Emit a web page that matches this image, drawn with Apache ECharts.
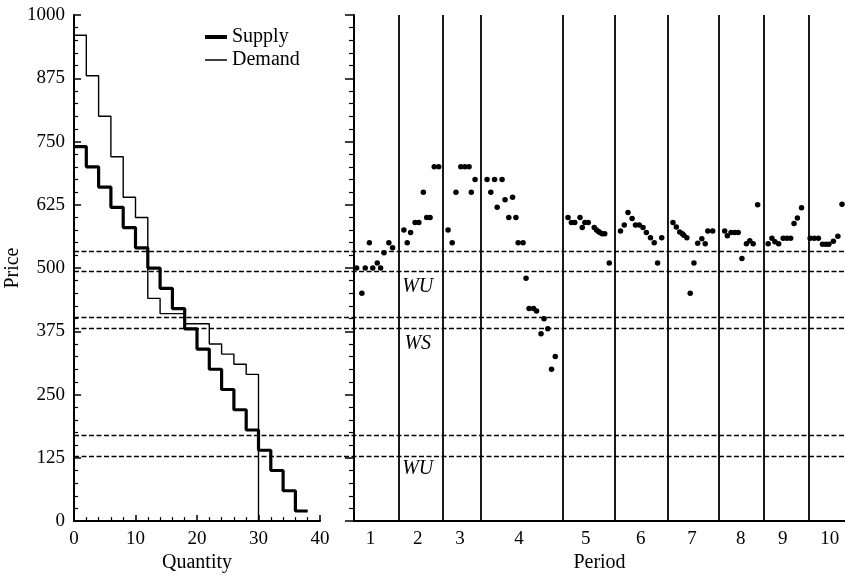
<!DOCTYPE html>
<html>
<head>
<meta charset="utf-8">
<script src="https://cdn.jsdelivr.net/npm/echarts@6/dist/echarts.min.js"></script>
<style>
html, body { margin: 0; padding: 0; background: #fff; }
#chart { width: 845px; height: 578px; }
</style>
</head>
<body>
<div id="chart"></div>
<script>
// left panel: induced supply / demand, steps of 2 units
var supplyQty = [0, 2, 4, 6, 8, 10, 12, 14, 16, 18, 20, 22, 24, 26, 28, 30, 32, 34, 36, 38];
var supplyPrice = [740, 700, 660, 620, 580, 540, 500, 460, 420, 380, 340, 300, 260, 220, 180, 140, 100, 60, 20, 20];
var demandQty = [0, 2, 4, 6, 8, 10, 12, 14, 16, 18, 20, 22, 24, 26, 28, 30];
var demandPrice = [960, 880, 800, 720, 640, 600, 440, 410, 410, 390, 390, 350, 330, 310, 290, 0];

// dashed reference prices (both panels)
var bandPrices = [540, 500, 410, 390, 180, 140];

// right panel: contract prices per period (time in trade-clock units)
var tradeTimes = [
    [0.7, 2.1, 3.0, 4.1, 5.0, 6.2, 7.1, 8.0, 9.3, 10.3],
    [13.3, 14.2, 15.1, 16.3, 17.3, 18.5, 19.4, 20.3, 21.4, 22.6],
    [25.1, 26.2, 27.2, 28.5, 29.6, 30.7, 31.3, 32.3],
    [35.5, 36.5, 37.5, 38.2, 39.5, 40.3, 41.3, 42.3, 43.2, 43.8, 45.1, 45.9, 46.7, 47.9, 48.7, 49.9, 50.7, 51.7, 52.7, 53.7],
    [57.1, 58.0, 58.9, 60.3, 60.9, 61.6, 62.5, 64.1, 64.7, 65.2, 65.6, 66.2, 66.9, 68.1],
    [71.1, 72.1, 73.1, 74.2, 75.1, 76.1, 77.1, 78.0, 79.1, 80.1, 81.0, 82.1],
    [85.1, 86.0, 86.9, 87.6, 88.0, 88.8, 89.7, 90.7, 91.7, 92.8, 93.7, 94.4, 95.7],
    [98.9, 99.6, 100.6, 101.6, 102.5, 103.5, 104.7, 105.6, 106.5, 107.7],
    [110.5, 111.5, 112.3, 113.3, 114.5, 115.5, 116.5, 117.4, 118.3, 119.4],
    [121.7, 122.8, 123.9, 125.0, 125.9, 126.7, 127.9, 129.1, 130.2]
];
var tradePrices = [
    [500, 450, 500, 550, 500, 510, 500, 530, 550, 540],
    [575, 550, 570, 590, 590, 650, 600, 600, 700, 700],
    [575, 550, 650, 700, 700, 700, 650, 675],
    [675, 650, 675, 620, 675, 635, 600, 640, 600, 550, 550, 480, 420, 420, 415, 370, 400, 380, 300, 325],
    [600, 590, 590, 600, 580, 590, 590, 580, 575, 572, 570, 568, 568, 510],
    [573, 585, 610, 598, 585, 585, 580, 570, 560, 550, 510, 560],
    [590, 581, 571, 568, 565, 560, 450, 510, 549, 558, 548, 573, 573],
    [573, 564, 570, 570, 570, 519, 548, 554, 548, 625],
    [548, 559, 552, 548, 559, 559, 559, 588, 599, 619],
    [559, 559, 559, 547, 547, 547, 553, 563, 626]
];
var periodBreaks = [12.0, 23.8, 33.9, 55.7, 69.7, 83.7, 97.4, 109.3, 121.3];
var periodCenters = [4.4, 17.0, 28.3, 44.0, 61.8, 76.5, 90.2, 103.2, 114.4, 126.9];
var periodLabels = ['1', '2', '3', '4', '5', '6', '7', '8', '9', '10'];

// WU / WS notes in period 2
var noteText = ['WU', 'WS', 'WU'];
var noteTime = [17.0, 17.0, 17.0];
var notePrice = [463, 351, 103];

var FONT = "'Liberation Serif', 'Times New Roman', serif";

function zip(xs, ys) {
    var out = [];
    for (var i = 0; i < xs.length; i++) out.push([xs[i], ys[i]]);
    return out;
}

var trades = [];
for (var p = 0; p < tradeTimes.length; p++) {
    trades = trades.concat(zip(tradeTimes[p], tradePrices[p]));
}

var notes = [];
for (var k = 0; k < noteText.length; k++) {
    notes.push({ value: [noteTime[k], notePrice[k]], name: noteText[k] });
}

var chart = echarts.init(document.getElementById('chart'));

var option = {
    backgroundColor: '#fff',
    animation: false,
    textStyle: { fontFamily: FONT, color: '#000' },
    legend: {
        left: 198,
        top: 22,
        orient: 'vertical',
        itemGap: 3,
        itemWidth: 22,
        itemHeight: 16,
        itemStyle: { opacity: 0 },
        textStyle: { fontFamily: FONT, fontSize: 20, color: '#000' },
        data: [
            { name: 'Supply', lineStyle: { width: 4, color: '#000' } },
            { name: 'Demand', lineStyle: { width: 1.5, color: '#000' } }
        ]
    },
    grid: [
        { left: 74, width: 246, top: 15, bottom: 50 },   // left panel
        { left: 354, right: 0, top: 15, bottom: 50 },    // right panel
        { left: 74, right: 0, top: 15, bottom: 50 }      // dashed lines across both
    ],
    xAxis: [
        {
            gridIndex: 0, type: 'value', min: 0, max: 40, interval: 10,
            name: 'Quantity', nameLocation: 'middle', nameGap: 27,
            nameTextStyle: { fontFamily: FONT, fontSize: 20, color: '#000' },
            axisLine: { lineStyle: { color: '#000', width: 2 } },
            axisTick: { inside: true, length: 6, lineStyle: { color: '#000', width: 1.5 } },
            minorTick: { show: true, splitNumber: 5, length: 4, lineStyle: { color: '#000', width: 1.2 } },
            axisLabel: { fontFamily: FONT, fontSize: 19, color: '#000', margin: 8 },
            splitLine: { show: false }
        },
        {
            gridIndex: 1, type: 'value', min: 0, max: 131,
            name: 'Period', nameLocation: 'middle', nameGap: 27,
            nameTextStyle: { fontFamily: FONT, fontSize: 20, color: '#000' },
            axisLine: { lineStyle: { color: '#000', width: 2 } },
            axisTick: { show: false },
            axisLabel: {
                fontFamily: FONT, fontSize: 19, color: '#000', margin: 8,
                customValues: periodCenters,
                formatter: function (v) {
                    var i = periodCenters.indexOf(v);
                    return i >= 0 ? periodLabels[i] : '';
                }
            },
            splitLine: { show: false }
        },
        { gridIndex: 2, type: 'value', min: 0, max: 1, show: false }
    ],
    yAxis: [
        {
            gridIndex: 0, type: 'value', min: 0, max: 1000, interval: 125,
            name: 'Price', nameLocation: 'middle', nameGap: 50, nameRotate: 90,
            nameTextStyle: { fontFamily: FONT, fontSize: 20, color: '#000' },
            axisLine: { show: true, lineStyle: { color: '#000', width: 2 } },
            axisTick: { show: true, inside: true, length: 7, lineStyle: { color: '#000', width: 1.5 } },
            minorTick: { show: true, splitNumber: 5, length: 4, lineStyle: { color: '#000', width: 1.2 } },
            axisLabel: {
                fontFamily: FONT, fontSize: 19, color: '#000', margin: 9,
                formatter: function (v) { return String(v); }
            },
            splitLine: { show: false }
        },
        {
            gridIndex: 1, type: 'value', min: 0, max: 1000, interval: 125,
            axisLine: { show: true, lineStyle: { color: '#000', width: 2 } },
            axisTick: { show: true, inside: false, length: 9, lineStyle: { color: '#000', width: 1.5 } },
            minorTick: { show: true, splitNumber: 5, length: 5, lineStyle: { color: '#000', width: 1.2 } },
            axisLabel: { show: false },
            splitLine: { show: false }
        },
        { gridIndex: 2, type: 'value', min: 0, max: 1000, show: false }
    ],
    series: [
        {
            name: 'bands',
            type: 'line',
            xAxisIndex: 2, yAxisIndex: 2,
            data: [],
            silent: true,
            markLine: {
                symbol: 'none',
                silent: true,
                label: { show: false },
                lineStyle: { color: '#000', type: [5, 2.5], width: 1.3 },
                data: bandPrices.map(function (v) { return { yAxis: v }; })
            }
        },
        {
            name: 'Supply',
            type: 'line',
            step: 'end',
            xAxisIndex: 0, yAxisIndex: 0,
            showSymbol: false,
            symbol: 'none',
            color: '#000',
            lineStyle: { color: '#000', width: 3.2 },
            data: zip(supplyQty, supplyPrice)
        },
        {
            name: 'Demand',
            type: 'line',
            step: 'end',
            xAxisIndex: 0, yAxisIndex: 0,
            showSymbol: false,
            symbol: 'none',
            color: '#000',
            lineStyle: { color: '#000', width: 1.4 },
            data: zip(demandQty, demandPrice)
        },
        {
            name: 'trades',
            type: 'scatter',
            xAxisIndex: 1, yAxisIndex: 1,
            symbolSize: 5.5,
            itemStyle: { color: '#000', opacity: 1 },
            data: trades,
            markLine: {
                symbol: 'none',
                silent: true,
                label: { show: false },
                lineStyle: { color: '#000', type: 'solid', width: 1.8 },
                data: periodBreaks.map(function (v) { return { xAxis: v }; })
            }
        },
        {
            name: 'notes',
            type: 'scatter',
            xAxisIndex: 1, yAxisIndex: 1,
            symbolSize: 0,
            silent: true,
            itemStyle: { color: '#000', opacity: 1 },
            label: {
                show: true,
                position: 'inside',
                formatter: '{b}',
                fontFamily: FONT,
                fontStyle: 'italic',
                fontSize: 20,
                color: '#000',
                opacity: 1
            },
            data: notes
        }
    ]
};

chart.setOption(option);
</script>
</body>
</html>
